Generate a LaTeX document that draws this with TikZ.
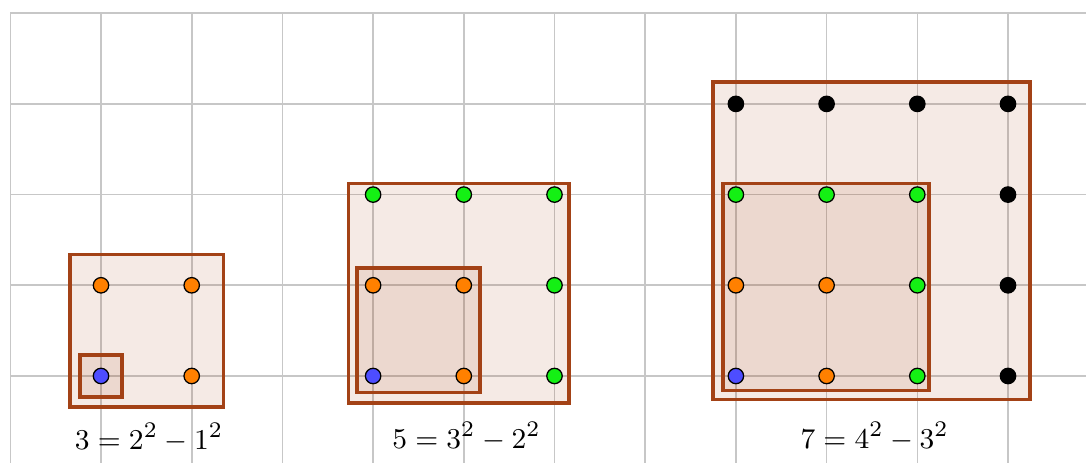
\documentclass[tikz,border=0pt]{standalone}
\usepackage{amsmath}
\usepackage{xcolor}
\usepackage{tikz}
\usetikzlibrary{positioning}
\definecolor{sqbrown}{RGB}{163,66,22}
\definecolor{dotorange}{RGB}{255,128,0}
\definecolor{dotblue}{RGB}{77,77,255}
\definecolor{dotgreen}{RGB}{20,240,20}
\tikzset{
  gridline/.style={draw=black!22,line width=0.5pt},
  oddsquare/.style={draw=sqbrown,fill=sqbrown,fill opacity=0.11,line width=1.1pt},
  dotmark/.style={circle,draw=black,line width=0.4pt,inner sep=0pt,minimum size=0.17cm},
  sumlabel/.style={font=\fontsize{9.5}{11}\selectfont}
}

\begin{document}
\begin{tikzpicture}[x=1.0cm,y=1.0cm]
  \useasboundingbox (-1.1136,-0.9592) rectangle (10.86,4.1455);
  % background grid
  \draw[gridline] (-1,-0.9592) grid (10.86,4);
  % squares
  \draw[oddsquare] (-0.34,-0.34) rectangle (1.35,1.34);
  \draw[oddsquare] (-0.23,-0.23) rectangle (0.23,0.23);
  \draw[oddsquare] (2.73,-0.30) rectangle (5.16,2.12);
  \draw[oddsquare] (2.82,-0.18) rectangle (4.18,1.19);
  \draw[oddsquare] (6.75,-0.26) rectangle (10.24,3.24);
  \draw[oddsquare] (6.86,-0.16) rectangle (9.13,2.12);
  % dots, n = 2
  \node[dotmark,fill=dotblue] (b1) at (0,0) {};
  \foreach \p/\q in {1/0,0/1,1/1}
    \node[dotmark,fill=dotorange] (o1-\p-\q) at (\p,\q) {};
  % dots, n = 3
  \node[dotmark,fill=dotblue] (b2) at (3,0) {};
  \foreach \p/\q in {4/0,3/1,4/1}
    \node[dotmark,fill=dotorange] (o2-\p-\q) at (\p,\q) {};
  \foreach \p/\q in {5/0,5/1,5/2,3/2,4/2}
    \node[dotmark,fill=dotgreen] (g2-\p-\q) at (\p,\q) {};
  % dots, n = 4
  \node[dotmark,fill=dotblue] (b3) at (7,0) {};
  \foreach \p/\q in {8/0,7/1,8/1}
    \node[dotmark,fill=dotorange] (o3-\p-\q) at (\p,\q) {};
  \foreach \p/\q in {9/0,9/1,9/2,7/2,8/2}
    \node[dotmark,fill=dotgreen] (g3-\p-\q) at (\p,\q) {};
  \foreach \p/\q in {10/0,10/1,10/2,10/3,7/3,8/3,9/3}
    \node[dotmark,fill=black] (k3-\p-\q) at (\p,\q) {};
  % labels
  \node[sumlabel] (lab1) at (0.53,-0.68) {$3=2^2-1^2$};
  \node[sumlabel] (lab2) at (4.03,-0.67) {$5=3^2-2^2$};
  \node[sumlabel] (lab3) at (8.53,-0.67) {$7=4^2-3^2$};
\end{tikzpicture}
\end{document}
